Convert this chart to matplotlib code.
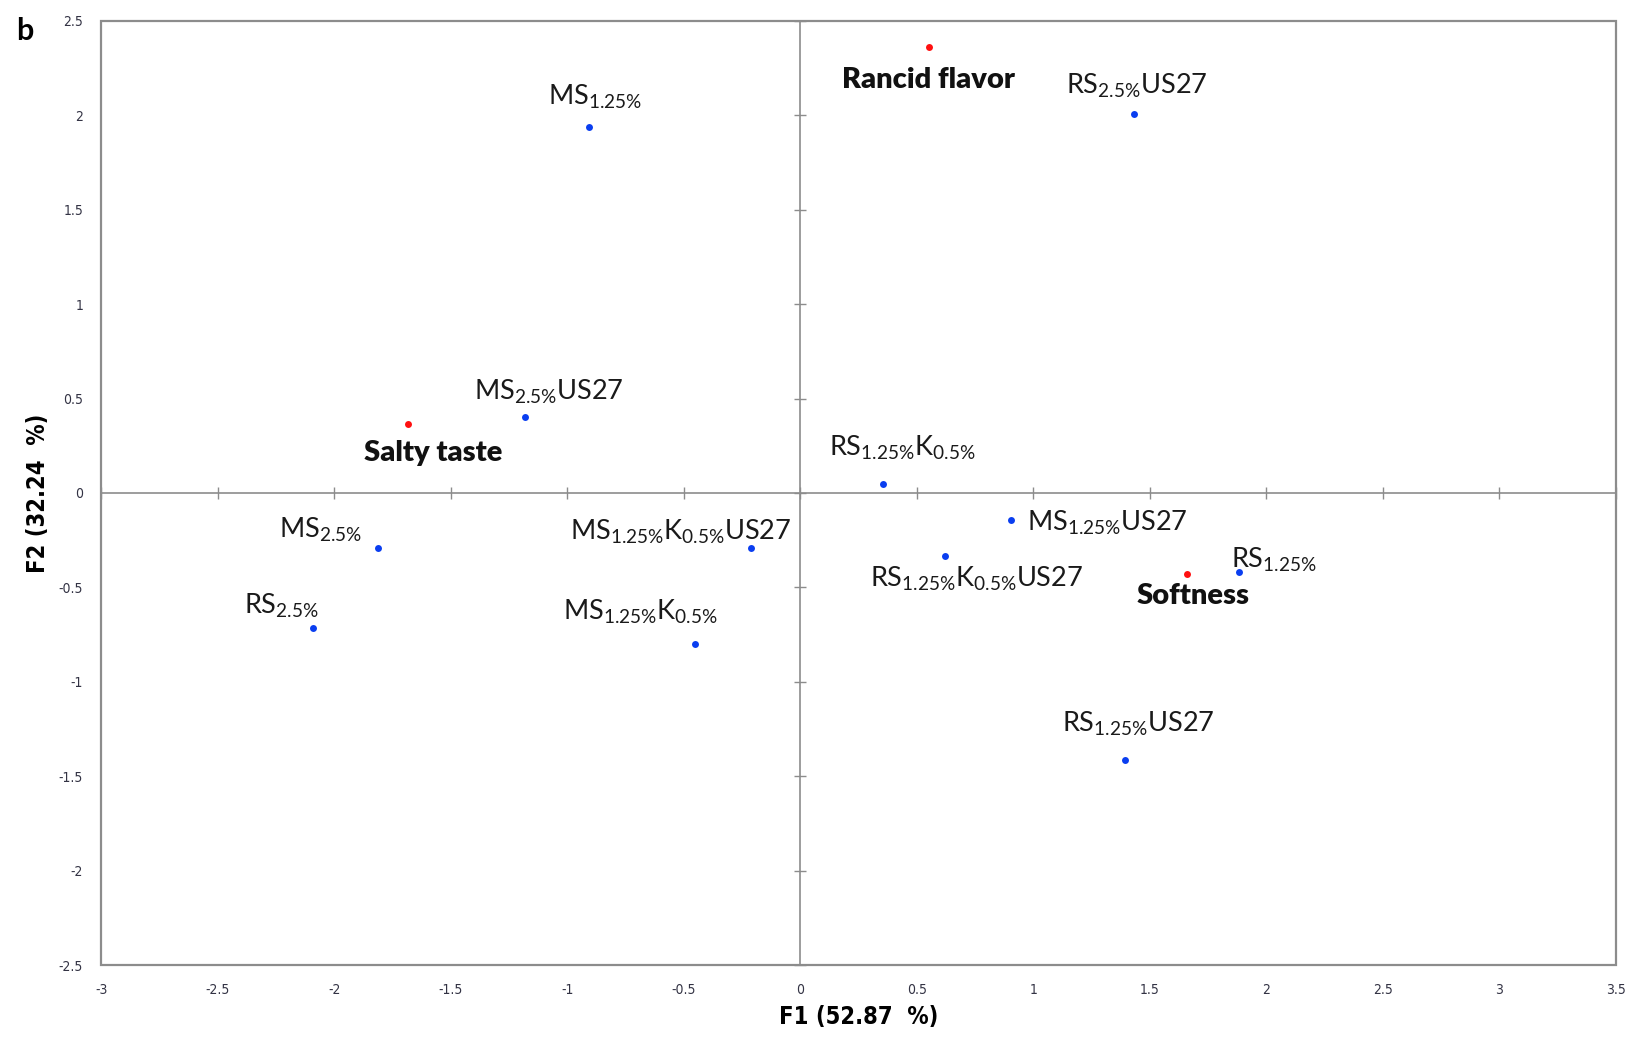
import matplotlib
matplotlib.use('Agg')
import matplotlib.pyplot as plt
from matplotlib.patches import Rectangle

plt.rcParams['font.family'] = ['Lato', 'DejaVu Sans']
plt.rcParams['mathtext.fontset'] = 'custom'
plt.rcParams['mathtext.rm'] = 'Lato'
plt.rcParams['mathtext.it'] = 'Lato'
plt.rcParams['mathtext.bf'] = 'Lato:bold'

# samples (blue) - F1, F2 scores
sample_names = [r'$\mathrm{MS_{1.25\%}}$', r'$\mathrm{RS_{2.5\%}US27}$', r'$\mathrm{MS_{2.5\%}US27}$',
                r'$\mathrm{RS_{1.25\%}K_{0.5\%}}$', r'$\mathrm{MS_{1.25\%}US27}$',
                r'$\mathrm{RS_{1.25\%}K_{0.5\%}US27}$', r'$\mathrm{RS_{1.25\%}}$', r'$\mathrm{MS_{2.5\%}}$',
                r'$\mathrm{MS_{1.25\%}K_{0.5\%}US27}$', r'$\mathrm{RS_{2.5\%}}$',
                r'$\mathrm{MS_{1.25\%}K_{0.5\%}}$', r'$\mathrm{RS_{1.25\%}US27}$']
sample_f1 = [-0.905, 1.432, -1.182, 0.355, 0.905, 0.623, 1.883, -1.812, -0.212, -2.093, -0.453, 1.396]
sample_f2 = [1.938, 2.009, 0.400, 0.047, -0.141, -0.333, -0.416, -0.289, -0.289, -0.714, -0.802, -1.414]

# sensory attributes (red)
attr_names = ['Rancid flavor', 'Salty taste', 'Softness']
attr_f1 = [0.553, -1.682, 1.660]
attr_f2 = [2.362, 0.367, -0.427]

xticks = [-3, -2.5, -2, -1.5, -1, -0.5, 0, 0.5, 1, 1.5, 2, 2.5, 3, 3.5]
yticks = [-2.5, -2, -1.5, -1, -0.5, 0, 0.5, 1, 1.5, 2, 2.5]

# label offsets in pixels (left edge, baseline) relative to the point
sample_off = [(-41, 22), (-68, 20), (-51, 18), (-54, 28), (16, -11), (-75, -31),
              (-8, 4), (-99, 10), (-181, 8), (-69, 14), (-132, 25), (-63, 28)]
attr_off = [(-87, -41), (-44, -37), (-50, -30)]

fig = plt.figure(figsize=(16.32, 10.46), dpi=100)
ax = fig.add_axes([0.062, 0.0774, 0.928, 0.9026])
ax.set_xlim(-3, 3.5)
ax.set_ylim(-2.5, 2.5)

gray = '#8c8c8c'
# crosshair axes through zero with tick marks
for s in ['top', 'right']:
    ax.spines[s].set_visible(False)
ax.spines['left'].set_position(('data', 0))
ax.spines['bottom'].set_position(('data', 0))
ax.spines['left'].set_color(gray)
ax.spines['bottom'].set_color(gray)
ax.spines['left'].set_linewidth(1.2)
ax.spines['bottom'].set_linewidth(1.2)
ax.set_xticks(xticks)
ax.set_yticks(yticks)
ax.tick_params(direction='inout', length=9, width=1, color=gray, labelbottom=False, labelleft=False)
ax.add_patch(Rectangle((0, 0), 1, 1, transform=ax.transAxes, fill=False, edgecolor=gray, lw=1.6, clip_on=False))

# tick labels along the outer frame
tfont = dict(family=['Liberation Sans Narrow', 'DejaVu Sans'], stretch='condensed', size=10, color='#333344')
secx = ax.secondary_xaxis('bottom')
secx.set_xticks(xticks, [f'{t:g}' for t in xticks], **tfont)
secx.tick_params(length=0, pad=13)
secx.spines['bottom'].set_visible(False)
secy = ax.secondary_yaxis('left')
secy.set_yticks(yticks, [f'{t:g}' for t in yticks], **tfont)
secy.tick_params(length=0, pad=13)
secy.spines['left'].set_visible(False)

ax.plot(sample_f1, sample_f2, 'o', color='#0a3ef0', ms=5, mec='none', zorder=3)
ax.plot(attr_f1, attr_f2, 'o', color='#ff1010', ms=5, mec='none', zorder=3)

for name, x, y, off in zip(sample_names, sample_f1, sample_f2, sample_off):
    ax.annotate(name, (x, y), xytext=off, textcoords='offset pixels', ha='left', va='baseline',
                fontsize=19.5, color='#1a1a1a')
for name, x, y, off in zip(attr_names, attr_f1, attr_f2, attr_off):
    ax.annotate(name, (x, y), xytext=off, textcoords='offset pixels', ha='left', va='baseline',
                fontsize=21, fontweight='heavy', color='#111111')

lfont = dict(family=['Liberation Sans Narrow', 'DejaVu Sans'], stretch='condensed', size=17, weight='bold')
secx.set_xlabel('F1 (52.87  %)', labelpad=6, **lfont)
secy.set_ylabel('F2 (32.24  %)', labelpad=6, **lfont)

fig.text(0.010, 0.984, 'b', fontsize=22, fontweight='bold', va='top', ha='left')

fig.savefig('out.png', dpi=100)
